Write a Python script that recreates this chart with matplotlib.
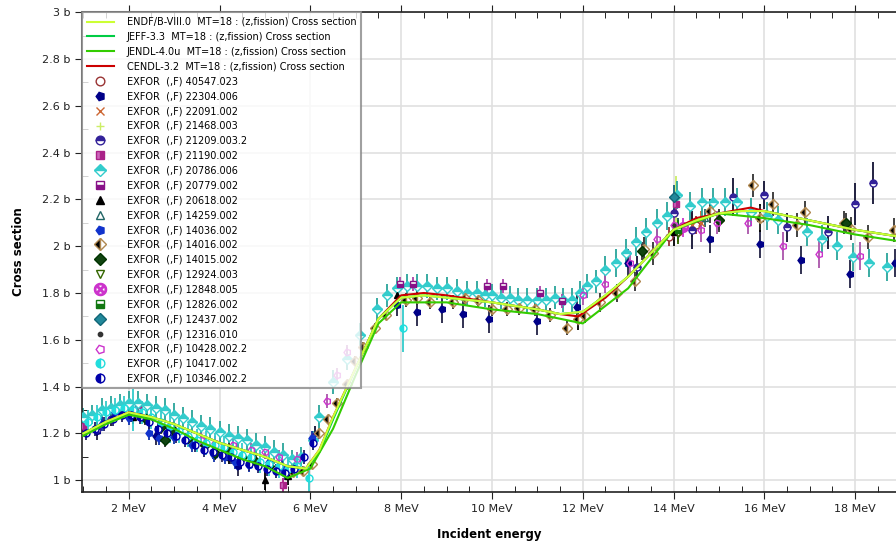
import matplotlib
matplotlib.use("Agg")
import matplotlib.pyplot as plt
from matplotlib.ticker import MultipleLocator, FuncFormatter

# evaluated cross sections (incident energy MeV, cross section b)
endf_e = [1.0, 1.5, 2.0, 2.5, 3.0, 3.5, 4.0, 4.5, 5.0, 5.5, 5.9, 6.2, 6.5, 7.0, 7.5, 8.0, 8.5, 9.0, 10.0, 11.0, 11.5, 12.0, 12.5, 13.0, 13.5, 14.0, 14.5, 15.0, 15.5, 16.0, 17.0, 18.0, 19.0]
endf_s = [1.20, 1.25, 1.29, 1.27, 1.24, 1.20, 1.16, 1.13, 1.10, 1.06, 1.05, 1.13, 1.27, 1.48, 1.69, 1.78, 1.79, 1.78, 1.76, 1.73, 1.71, 1.72, 1.79, 1.87, 1.97, 2.07, 2.11, 2.14, 2.15, 2.15, 2.11, 2.07, 2.04]
jeff_e = [1.0, 1.5, 2.0, 2.5, 3.0, 3.5, 4.0, 4.5, 5.0, 5.5, 5.9, 6.2, 6.5, 7.0, 7.5, 8.0, 8.5, 9.0, 10.0, 11.0, 11.5, 12.0, 12.5, 13.0, 13.5, 14.0, 14.5, 15.0, 15.5, 16.0, 17.0, 18.0, 19.0]
jeff_s = [1.20, 1.25, 1.28, 1.27, 1.24, 1.20, 1.16, 1.13, 1.10, 1.06, 1.05, 1.12, 1.26, 1.48, 1.69, 1.78, 1.79, 1.78, 1.76, 1.73, 1.71, 1.72, 1.79, 1.87, 1.97, 2.07, 2.11, 2.14, 2.15, 2.15, 2.11, 2.07, 2.04]
jendl_e = [1.0, 1.5, 2.0, 2.5, 3.0, 3.5, 4.0, 4.5, 5.0, 5.5, 6.0, 6.5, 7.0, 7.5, 8.0, 9.0, 10.0, 11.0, 12.0, 13.0, 14.0, 15.0, 16.0, 17.0, 18.0, 19.0]
jendl_s = [1.19, 1.24, 1.28, 1.26, 1.22, 1.17, 1.13, 1.09, 1.06, 1.01, 1.05, 1.22, 1.45, 1.67, 1.76, 1.76, 1.73, 1.71, 1.67, 1.82, 2.07, 2.14, 2.12, 2.09, 2.05, 2.02]
cendl_e = [1.0, 1.5, 2.0, 2.5, 3.0, 3.5, 4.0, 4.5, 5.0, 5.5, 5.9, 6.2, 6.5, 7.0, 7.5, 8.0, 8.5, 9.0, 10.0, 11.0, 11.5, 11.9, 12.5, 13.0, 13.5, 14.0, 14.5, 15.0, 15.7, 16.0, 17.0, 18.0, 19.0]
cendl_s = [1.20, 1.25, 1.29, 1.27, 1.24, 1.20, 1.16, 1.13, 1.10, 1.06, 1.05, 1.13, 1.27, 1.48, 1.69, 1.79, 1.80, 1.79, 1.76, 1.73, 1.71, 1.70, 1.78, 1.87, 1.97, 2.07, 2.12, 2.14, 2.165, 2.15, 2.11, 2.07, 2.04]

# EXFOR data sets
x40547_e = [13.9, 14.1, 14.5]
x40547_s = [2.04, 2.06, 2.09]
x40547_d = [0.04, 0.04, 0.04]

x22304_e = [1.3, 2.6, 4.4, 7.9, 8.35, 8.9, 9.36, 9.93, 10.99, 11.87, 13.0, 14.8, 15.9, 16.8, 17.88, 18.87]
x22304_s = [1.21, 1.19, 1.06, 1.75, 1.72, 1.73, 1.71, 1.69, 1.68, 1.74, 1.93, 2.03, 2.01, 1.94, 1.88, 1.93]
x22304_d = [0.04, 0.04, 0.04, 0.05, 0.06, 0.06, 0.06, 0.06, 0.06, 0.06, 0.06, 0.06, 0.06, 0.06, 0.06, 0.06]

x22091_e = [14.1, 14.4, 14.6]
x22091_s = [2.07, 2.09, 2.10]
x22091_d = [0.05, 0.05, 0.05]

x21468_e = [14.05]
x21468_s = [2.20]
x21468_d = [0.10]

x21209_e = [1.3, 1.6, 6.1, 13.2, 14.0, 14.4, 15.3, 16.0, 16.5, 17.4, 18.0, 18.4]
x21209_s = [1.22, 1.26, 1.19, 1.91, 2.14, 2.07, 2.21, 2.22, 2.08, 2.06, 2.18, 2.27]
x21209_d = [0.03, 0.03, 0.04, 0.05, 0.05, 0.08, 0.08, 0.06, 0.06, 0.07, 0.09, 0.09]

x21190_e = [1.0, 2.2, 5.4, 14.05]
x21190_s = [1.23, 1.32, 0.98, 2.18]
x21190_d = [0.03, 0.03, 0.03, 0.03]

x20786_e = [1.0, 1.2, 1.4, 1.6, 1.8, 2.0, 2.2, 2.4, 2.6, 2.8, 3.0, 3.2, 3.4, 3.6, 3.8, 4.0, 4.2, 4.4, 4.6, 4.8, 5.0, 5.2, 5.4, 5.6, 5.8, 6.05, 6.2,
            6.5, 6.8, 7.1, 7.46, 7.68, 7.9, 8.12, 8.34, 8.56, 8.78, 9.0, 9.22, 9.44, 9.66, 9.84, 10.0, 10.2, 10.4, 10.57, 10.77, 11.0, 11.2, 11.38, 11.56, 11.76, 11.93,
            12.1, 12.3, 12.5, 12.73, 12.95, 13.17, 13.39, 13.63, 13.85, 14.07, 14.36, 14.62, 14.86, 15.13, 15.4, 15.7, 16.05, 16.3, 16.94, 17.26, 17.6, 17.95, 18.3, 18.7]
x20786_s = [1.27, 1.28, 1.30, 1.31, 1.32, 1.33, 1.33, 1.32, 1.31, 1.30, 1.28, 1.265, 1.25, 1.23, 1.22, 1.205, 1.19, 1.18, 1.17, 1.15, 1.14, 1.12, 1.11, 1.09, 1.10, 1.17, 1.27,
            1.42, 1.52, 1.62, 1.73, 1.79, 1.82, 1.83, 1.83, 1.83, 1.82, 1.82, 1.81, 1.80, 1.80, 1.79, 1.79, 1.78, 1.78, 1.77, 1.77, 1.77, 1.77, 1.78, 1.77, 1.77, 1.80,
            1.83, 1.85, 1.90, 1.93, 1.97, 2.02, 2.06, 2.10, 2.13, 2.22, 2.17, 2.19, 2.19, 2.19, 2.19, 2.145, 2.13, 2.11, 2.06, 2.03, 2.00, 1.955, 1.93, 1.91]
x20786_d = [0.04, 0.04, 0.05, 0.05, 0.05, 0.05, 0.05, 0.05, 0.05, 0.05, 0.05, 0.05, 0.05, 0.05, 0.05, 0.05, 0.05, 0.05, 0.05, 0.05, 0.05, 0.05, 0.05, 0.04, 0.04, 0.04, 0.05,
            0.05, 0.05, 0.05, 0.05, 0.05, 0.05, 0.05, 0.05, 0.05, 0.05, 0.05, 0.05, 0.05, 0.05, 0.05, 0.05, 0.05, 0.05, 0.05, 0.05, 0.05, 0.05, 0.05, 0.05, 0.05, 0.05,
            0.05, 0.05, 0.06, 0.06, 0.06, 0.06, 0.06, 0.06, 0.06, 0.06, 0.06, 0.06, 0.06, 0.06, 0.06, 0.06, 0.06, 0.06, 0.06, 0.06, 0.06, 0.06, 0.06, 0.06]

x20779_e = [7.97, 8.26, 9.9, 10.24, 11.05, 11.54]
x20779_s = [1.84, 1.84, 1.83, 1.83, 1.80, 1.765]
x20779_d = [0.03, 0.03, 0.03, 0.03, 0.03, 0.03]

x20618_e = [2.1, 3.0, 4.2, 5.0, 5.5, 7.9, 11.9, 14.0, 15.9]
x20618_s = [1.27, 1.20, 1.10, 1.00, 1.02, 1.79, 1.69, 2.06, 2.12]
x20618_d = [0.03, 0.03, 0.03, 0.04, 0.04, 0.04, 0.05, 0.06, 0.06]

x14259_e = [14.1, 14.7]
x14259_s = [2.08, 2.12]
x14259_d = [0.04, 0.04]

x14036_e = [1.4, 1.7, 2.0, 2.45, 2.66, 3.0, 3.39, 3.87, 4.11, 4.34, 4.64, 5.08, 5.37, 6.03]
x14036_s = [1.24, 1.29, 1.265, 1.20, 1.18, 1.185, 1.15, 1.107, 1.10, 1.077, 1.064, 1.077, 1.056, 1.18]
x14036_d = [0.03, 0.03, 0.03, 0.03, 0.03, 0.03, 0.03, 0.03, 0.03, 0.03, 0.03, 0.03, 0.03, 0.03]

x14016_e = [5.61, 5.83, 6.03, 6.2, 6.38, 6.58, 6.8, 6.98, 7.15, 7.42, 7.66, 8.1, 8.34, 8.63, 9.14, 9.4, 9.69, 10.0, 10.33, 10.6, 10.94, 11.27, 11.65, 11.89, 12.04,
            12.37, 12.75, 13.15, 13.34, 13.54, 14.8, 15.0, 15.74, 15.9, 16.2, 16.73, 16.9, 17.75, 17.9, 18.28, 18.85]
x14016_s = [1.035, 1.04, 1.07, 1.20, 1.26, 1.33, 1.41, 1.51, 1.57, 1.65, 1.705, 1.77, 1.78, 1.76, 1.76, 1.78, 1.77, 1.73, 1.73, 1.735, 1.73, 1.705, 1.65, 1.69, 1.70,
            1.76, 1.80, 1.85, 1.99, 1.97, 2.15, 2.11, 2.26, 2.12, 2.18, 2.09, 2.145, 2.10, 2.075, 2.04, 2.07]
x14016_d = [0.02, 0.02, 0.02, 0.02, 0.02, 0.02, 0.02, 0.02, 0.02, 0.02, 0.02, 0.03, 0.03, 0.03, 0.03, 0.03, 0.03, 0.03, 0.03, 0.03, 0.03, 0.03, 0.03, 0.03, 0.03,
            0.04, 0.04, 0.04, 0.05, 0.05, 0.05, 0.05, 0.05, 0.05, 0.05, 0.05, 0.05, 0.05, 0.05, 0.05, 0.05]

x14015_e = [2.35, 2.7, 2.8, 3.0, 3.3, 3.67, 3.9, 4.2, 4.5, 4.8, 5.1, 13.3, 15.0, 17.8]
x14015_s = [1.265, 1.226, 1.17, 1.21, 1.18, 1.15, 1.115, 1.13, 1.10, 1.08, 1.06, 1.98, 2.11, 2.10]
x14015_d = [0.03, 0.03, 0.03, 0.03, 0.03, 0.03, 0.03, 0.03, 0.03, 0.03, 0.03, 0.04, 0.04, 0.04]

x12924_e = [14.1]
x12924_s = [2.05]
x12924_d = [0.04]

x12848_e = [14.2]
x12848_s = [2.08]
x12848_d = [0.04]

x12826_e = [14.1]
x12826_s = [2.07]
x12826_d = [0.04]

x12437_e = [14.0]
x12437_s = [2.21]
x12437_d = [0.05]

x12316_e = [14.0]
x12316_s = [2.09]
x12316_d = [0.03]

x10428_e = [3.6, 3.9, 4.3, 4.7, 5.0, 5.3, 5.7, 6.36, 6.58, 6.8, 12.0, 12.5, 13.04, 13.63, 14.0, 14.6, 14.95, 15.64, 16.4, 17.2, 18.1]
x10428_s = [1.17, 1.16, 1.15, 1.13, 1.12, 1.10, 1.09, 1.34, 1.45, 1.55, 1.79, 1.84, 1.93, 2.03, 2.09, 2.07, 2.10, 2.10, 2.00, 1.965, 1.96]
x10428_d = [0.03, 0.03, 0.03, 0.03, 0.03, 0.03, 0.03, 0.03, 0.03, 0.03, 0.04, 0.04, 0.05, 0.05, 0.05, 0.05, 0.05, 0.05, 0.06, 0.06, 0.06]

x10417_e = [1.1, 1.3, 1.5, 1.7, 1.9, 2.1, 2.3, 2.5, 2.7, 2.9, 3.1, 3.3, 3.5, 3.7, 3.9, 4.1, 4.3, 4.5, 4.7, 4.9, 5.1, 5.3, 5.5, 5.7, 5.97, 8.04]
x10417_s = [1.25, 1.27, 1.29, 1.30, 1.31, 1.30, 1.29, 1.27, 1.25, 1.23, 1.21, 1.19, 1.17, 1.16, 1.15, 1.14, 1.12, 1.11, 1.10, 1.08, 1.07, 1.06, 1.05, 1.06, 1.01, 1.65]
x10417_d = [0.05, 0.05, 0.05, 0.05, 0.05, 0.09, 0.05, 0.05, 0.05, 0.07, 0.05, 0.05, 0.05, 0.05, 0.05, 0.05, 0.05, 0.05, 0.05, 0.05, 0.05, 0.05, 0.05, 0.05, 0.06, 0.10]

x10346_e = [1.05, 1.25, 1.45, 1.65, 1.85, 2.05, 2.25, 2.45, 2.65, 2.85, 3.05, 3.25, 3.45, 3.65, 3.85, 4.05, 4.25, 4.45, 4.65, 4.85, 5.05, 5.25, 5.45, 5.65, 5.85, 6.05]
x10346_s = [1.20, 1.22, 1.24, 1.26, 1.28, 1.28, 1.27, 1.25, 1.22, 1.20, 1.19, 1.17, 1.15, 1.13, 1.12, 1.11, 1.10, 1.08, 1.07, 1.06, 1.05, 1.04, 1.03, 1.05, 1.10, 1.16]
x10346_d = [0.03, 0.03, 0.03, 0.03, 0.03, 0.03, 0.03, 0.03, 0.03, 0.03, 0.03, 0.03, 0.03, 0.03, 0.03, 0.03, 0.03, 0.03, 0.03, 0.03, 0.03, 0.03, 0.03, 0.03, 0.03, 0.03]

# label, E, sigma, d(sigma), marker, colour, fillstyle, face colour, alt face colour, errorbar colour
exfor = [
    ("EXFOR  (,F) 40547.023", x40547_e, x40547_s, x40547_d, "o", "#993333", "full", "white", "white", "#993333"),
    ("EXFOR  (,F) 22304.006", x22304_e, x22304_s, x22304_d, (5, 0, 90), "#000088", "full", "#000088", "#000088", "#222244"),
    ("EXFOR  (,F) 22091.002", x22091_e, x22091_s, x22091_d, "x", "#cc6633", "full", "#cc6633", "#cc6633", "#cc6633"),
    ("EXFOR  (,F) 21468.003", x21468_e, x21468_s, x21468_d, "+", "#ccee66", "full", "#ccee66", "#ccee66", "#ccee66"),
    ("EXFOR  (,F) 21209.003.2", x21209_e, x21209_s, x21209_d, "o", "#332299", "top", "#332299", "white", "#111133"),
    ("EXFOR  (,F) 21190.002", x21190_e, x21190_s, x21190_d, "s", "#aa2288", "right", "#aa2288", "#cc66bb", "#aa2288"),
    ("EXFOR  (,F) 20786.006", x20786_e, x20786_s, x20786_d, "D", "#33cccc", "top", "#33cccc", "white", "#2aa59b"),
    ("EXFOR  (,F) 20779.002", x20779_e, x20779_s, x20779_d, "s", "#881188", "bottom", "#881188", "white", "#aa44aa"),
    ("EXFOR  (,F) 20618.002", x20618_e, x20618_s, x20618_d, "^", "#000000", "full", "#000000", "#000000", "#000000"),
    ("EXFOR  (,F) 14259.002", x14259_e, x14259_s, x14259_d, "^", "#226666", "none", "white", "white", "#226666"),
    ("EXFOR  (,F) 14036.002", x14036_e, x14036_s, x14036_d, (5, 0, 90), "#1133cc", "full", "#1133cc", "#1133cc", "#1133aa"),
    ("EXFOR  (,F) 14016.002", x14016_e, x14016_s, x14016_d, "D", "#b08850", "left", "#000000", "white", "#333333"),
    ("EXFOR  (,F) 14015.002", x14015_e, x14015_s, x14015_d, "D", "#003300", "full", "#114411", "#114411", "#333333"),
    ("EXFOR  (,F) 12924.003", x12924_e, x12924_s, x12924_d, "v", "#336600", "none", "white", "white", "#336600"),
    ("EXFOR  (,F) 12848.005", x12848_e, x12848_s, x12848_d, "$\\otimes$", "#cc33cc", "full", "#cc33cc", "#cc33cc", "#cc33cc"),
    ("EXFOR  (,F) 12826.002", x12826_e, x12826_s, x12826_d, "s", "#117711", "bottom", "#117711", "white", "#117711"),
    ("EXFOR  (,F) 12437.002", x12437_e, x12437_s, x12437_d, "D", "#116677", "full", "#22889a", "#22889a", "#116677"),
    ("EXFOR  (,F) 12316.010", x12316_e, x12316_s, x12316_d, ".", "#333333", "full", "#333333", "#333333", "#333333"),
    ("EXFOR  (,F) 10428.002.2", x10428_e, x10428_s, x10428_d, (5, 0, 90), "#cc33cc", "none", "white", "white", "#aa55aa"),
    ("EXFOR  (,F) 10417.002", x10417_e, x10417_s, x10417_d, "o", "#22dddd", "left", "#22dddd", "white", "#33cccc"),
    ("EXFOR  (,F) 10346.002.2", x10346_e, x10346_s, x10346_d, "o", "#0000aa", "left", "#0000aa", "white", "#222266"),
]

fig = plt.figure(figsize=(8.96, 5.5), dpi=100)
ax = fig.add_axes([0.0915, 0.1055, 0.9085, 0.8725])

ax.plot(endf_e, endf_s, color="#ccff33", lw=1.5, zorder=5, label="ENDF/B-VIII.0  MT=18 : (z,fission) Cross section")
ax.plot(jeff_e, jeff_s, color="#00cc44", lw=1.5, zorder=4, label="JEFF-3.3  MT=18 : (z,fission) Cross section")
ax.plot(jendl_e, jendl_s, color="#33cc00", lw=1.5, zorder=4, label="JENDL-4.0u  MT=18 : (z,fission) Cross section")
ax.plot(cendl_e, cendl_s, color="#cc0000", lw=1.5, zorder=3.5, label="CENDL-3.2  MT=18 : (z,fission) Cross section")

for lab, e, s, d, mk, col, fs, fc, fca, ec in exfor:
    ax.errorbar(e, s, yerr=d, fmt="none", ecolor=ec, elinewidth=1.3, capsize=0, zorder=2)
    ms = 7 if mk == "$\\otimes$" else 5
    ax.plot(e, s, ls="none", marker=mk, markersize=ms, color=col, markeredgecolor=col,
            markerfacecolor=fc, markerfacecoloralt=fca, fillstyle=fs, markeredgewidth=1.0,
            zorder=3, label=lab)

ax.set_xlim(0.97, 18.9)
ax.set_ylim(0.95, 3.0)
ax.xaxis.set_major_locator(MultipleLocator(2))
ax.xaxis.set_minor_locator(MultipleLocator(0.5))
ax.yaxis.set_major_locator(MultipleLocator(0.2))
ax.yaxis.set_minor_locator(MultipleLocator(0.1))
ax.xaxis.set_major_formatter(FuncFormatter(lambda v, p: f"{v:g} MeV"))
ax.yaxis.set_major_formatter(FuncFormatter(lambda v, p: f"{v:g} b"))
ax.tick_params(which="major", direction="out", length=5, labelsize=8, colors="#222222")
ax.tick_params(which="minor", direction="in", length=4, top=True)
ax.tick_params(axis="x", which="major", top=True)
ax.grid(which="major", color="#e0e0e0", lw=1.2)
ax.set_axisbelow(True)
ax.spines["right"].set_visible(False)
for sp in ["left", "bottom", "top"]:
    ax.spines[sp].set_linewidth(1.2)
    ax.spines[sp].set_color("#222222")

ax.set_xlabel("Incident energy", fontsize=8.5, fontweight="bold", labelpad=10)
ax.set_ylabel("Cross section", fontsize=8.5, fontweight="bold", labelpad=12)

leg = ax.legend(loc="upper left", borderaxespad=0, fontsize=7, frameon=True, fancybox=False,
                framealpha=0.8, edgecolor="#888888", labelspacing=0.5, handlelength=2.8,
                handletextpad=1.3, borderpad=0.5, numpoints=1, markerscale=1.25)
leg.get_frame().set_linewidth(1.5)
leg.set_zorder(10)

fig.savefig("out.png", dpi=100)
